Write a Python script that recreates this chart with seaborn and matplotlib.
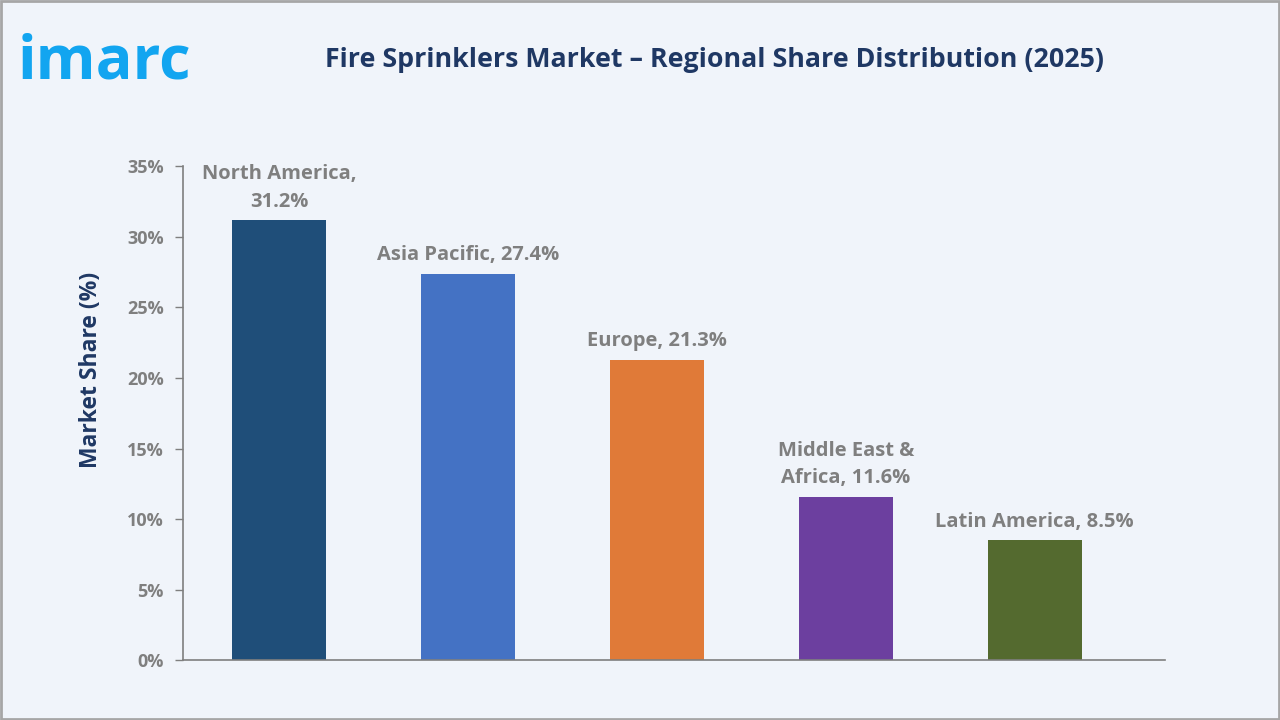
import pandas as pd
import numpy as np
from matplotlib import pyplot as plt
import seaborn as sns

regions = ["North America", "Asia Pacific", "Europe", "Middle East & Africa", "Latin America"]
shares = [31.2, 27.4, 21.3, 11.6, 8.5]
bar_labels = ["North America,\n31.2%", "Asia Pacific, 27.4%", "Europe, 21.3%",
              "Middle East &\nAfrica, 11.6%", "Latin America, 8.5%"]
colors = ["#1F4E79", "#4472C4", "#E07A38", "#6C3F9F", "#546A2F"]
yticks = [0, 5, 10, 15, 20, 25, 30, 35]

df = pd.DataFrame({"region": regions, "share": shares})

bg = "#F0F4FA"
sns.set_style("white")
plt.rcParams["font.family"] = ["Open Sans", "DejaVu Sans"]

fig = plt.figure(figsize=(12.8, 7.2), dpi=100, facecolor=bg)
ax = fig.add_axes([0.143, 0.083, 0.767, 0.686])
ax.set_facecolor(bg)

sns.barplot(data=df, x="region", y="share", hue="region", palette=colors,
            width=0.5, legend=False, ax=ax, saturation=1, linewidth=0)

ax.set_xlim(-0.508, 4.688)
ax.set_ylim(0, 35)
ax.set_yticks(yticks)
ax.set_yticklabels([f"{t}%" for t in yticks], color="#7F7F7F", fontsize=13, fontweight="bold")
ax.tick_params(axis="y", length=6, width=1, color="#7F7F7F", pad=8, direction="out", left=True)
ax.set_xticks([])
ax.set_xlabel("")
ax.set_ylabel("Market Share (%)", color="#1F3864", fontsize=16.5, fontweight="bold")
ax.yaxis.set_label_coords(-0.082, 0.587)

for s in ["top", "right"]:
    ax.spines[s].set_visible(False)
for s in ["left", "bottom"]:
    ax.spines[s].set_color("#7F7F7F")
    ax.spines[s].set_linewidth(1.2)

for i, (v, lab) in enumerate(zip(shares, bar_labels)):
    ax.annotate(lab, (i, v), xytext=(0, 6), textcoords="offset points",
                ha="center", va="bottom", color="#7F7F7F", fontsize=14.5,
                fontweight="bold", linespacing=1.5)

fig.text(0.558, 0.916, "Fire Sprinklers Market \u2013 Regional Share Distribution (2025)",
         ha="center", va="center", color="#1F3864", fontsize=19.3, fontweight="bold")
fig.text(0.014, 0.912, "imarc", ha="left", va="center", color="#12A5F0",
         fontsize=44, fontweight="bold")

border = plt.Rectangle((0.001, 0.001), 0.998, 0.997, transform=fig.transFigure,
                       fill=False, edgecolor="#A6A6A6", linewidth=2)
fig.add_artist(border)

fig.savefig("out.png", dpi=100, facecolor=bg)
